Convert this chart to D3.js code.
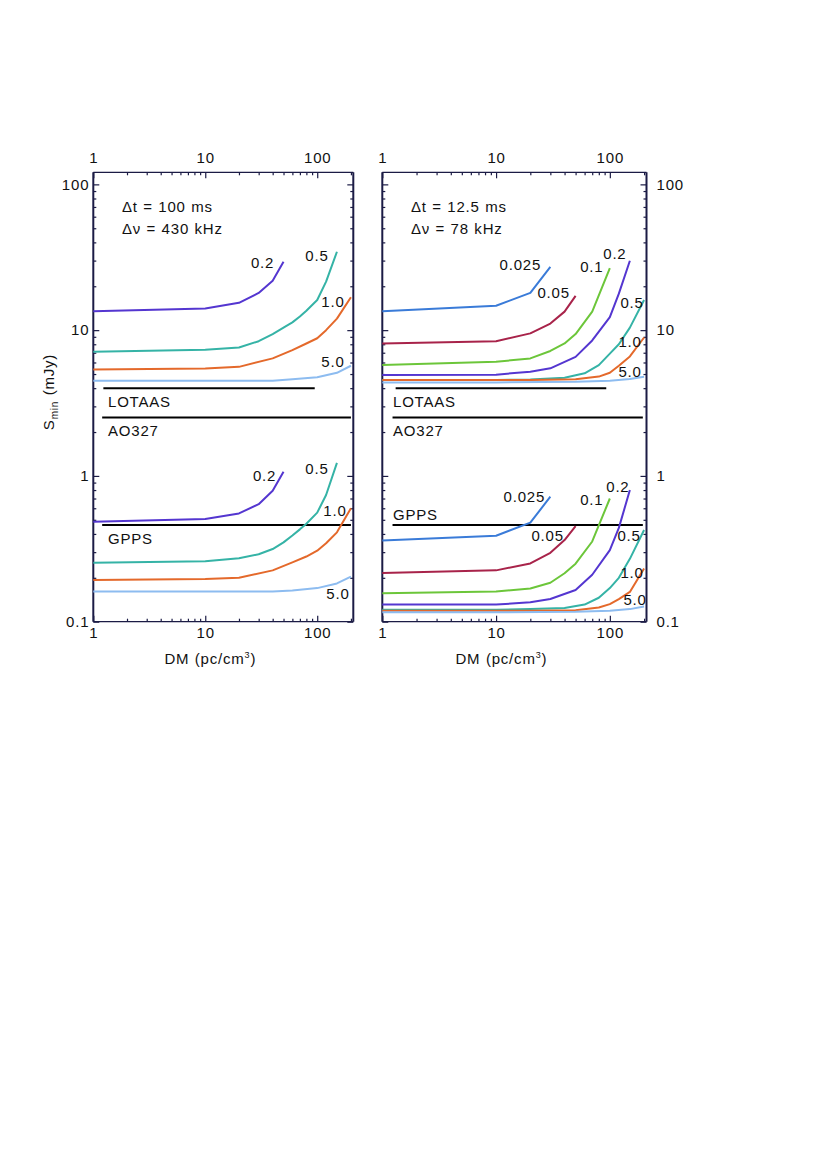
<!DOCTYPE html>
<html><head><meta charset="utf-8">
<script src="https://cdn.jsdelivr.net/npm/d3@7"></script>
<style>body{margin:0;background:#fff;} text{font-family:"Liberation Sans",Arial,sans-serif;letter-spacing:0.8px;word-spacing:0.5px;}</style>
</head><body>
<svg id="c" width="830" height="1174"></svg>
<script>
// ---------- data ----------
const xTicks = [1, 10, 100];
const yTicks = [0.1, 1, 10, 100];
const dmDomain = [1, 210];
const sDomain = [0.1, 121];

// widths (ms) labels
const leftWidths = ["0.2", "0.5", "1.0", "5.0"];
const rightWidths = ["0.025", "0.05", "0.1", "0.2", "0.5", "1.0", "5.0"];

// Left panel (dt = 100 ms, dnu = 430 kHz), upper set
const L_up_02_dm = [1, 10, 20, 30, 40, 50];
const L_up_02_s  = [13.5, 14.1, 15.4, 18.0, 21.8, 29.5];
const L_up_05_dm = [1, 10, 20, 30, 40, 50, 60, 70, 80, 100, 120, 150];
const L_up_05_s  = [7.1, 7.35, 7.6, 8.4, 9.4, 10.4, 11.3, 12.4, 13.6, 16.1, 21.5, 34.5];
const L_up_10_dm = [1, 10, 20, 40, 60, 80, 100, 120, 150, 200];
const L_up_10_s  = [5.38, 5.45, 5.6, 6.4, 7.3, 8.1, 8.8, 10.0, 12.0, 16.8];
const L_up_50_dm = [1, 10, 20, 40, 60, 100, 150, 200];
const L_up_50_s  = [4.5, 4.5, 4.5, 4.5, 4.6, 4.75, 5.1, 5.7];

// Left panel, lower set
const L_lo_02_dm = [1, 10, 20, 30, 40, 50];
const L_lo_02_s  = [0.485, 0.506, 0.553, 0.64, 0.79, 1.07];
const L_lo_05_dm = [1, 10, 20, 30, 40, 50, 60, 70, 80, 100, 120, 150];
const L_lo_05_s  = [0.254, 0.26, 0.272, 0.29, 0.315, 0.35, 0.39, 0.43, 0.47, 0.56, 0.74, 1.23];
const L_lo_10_dm = [1, 10, 20, 40, 60, 80, 100, 120, 150, 200];
const L_lo_10_s  = [0.193, 0.196, 0.2, 0.225, 0.255, 0.28, 0.307, 0.345, 0.41, 0.6];
const L_lo_50_dm = [1, 10, 20, 40, 60, 100, 150, 200];
const L_lo_50_s  = [0.161, 0.161, 0.161, 0.161, 0.164, 0.17, 0.183, 0.204];

// Right panel (dt = 12.5 ms, dnu = 78 kHz), upper set
const R_up_0025_dm = [1, 10, 20, 30];
const R_up_0025_s  = [13.5, 14.7, 18.0, 27.2];
const R_up_005_dm = [1, 10, 20, 30, 40, 50];
const R_up_005_s  = [8.1, 8.4, 9.5, 11.1, 13.4, 17.2];
const R_up_01_dm = [1, 10, 20, 30, 40, 50, 70, 100];
const R_up_01_s  = [5.76, 6.07, 6.4, 7.2, 8.1, 9.4, 13.4, 26.6];
const R_up_02_dm = [1, 10, 20, 30, 50, 70, 100, 120, 150];
const R_up_02_s  = [4.92, 4.95, 5.19, 5.47, 6.56, 8.5, 12.3, 17.8, 29.9];
const R_up_05_dm = [1, 10, 20, 40, 60, 80, 100, 120, 150, 200];
const R_up_05_s  = [4.55, 4.55, 4.58, 4.72, 5.06, 5.75, 6.9, 8.0, 10.4, 16.1];
const R_up_10_dm = [1, 10, 20, 50, 80, 100, 120, 150, 200];
const R_up_10_s  = [4.55, 4.55, 4.55, 4.6, 4.8, 5.1, 5.7, 6.6, 8.9];
const R_up_50_dm = [1, 10, 50, 100, 150, 200];
const R_up_50_s  = [4.38, 4.38, 4.42, 4.5, 4.62, 4.79];

// Right panel, lower set
const R_lo_0025_dm = [1, 10, 20, 30];
const R_lo_0025_s  = [0.36, 0.389, 0.478, 0.72];
const R_lo_005_dm = [1, 10, 20, 30, 40, 50];
const R_lo_005_s  = [0.216, 0.225, 0.251, 0.297, 0.363, 0.453];
const R_lo_01_dm = [1, 10, 20, 30, 40, 50, 70, 100];
const R_lo_01_s  = [0.157, 0.161, 0.169, 0.185, 0.215, 0.25, 0.355, 0.70];
const R_lo_02_dm = [1, 10, 20, 30, 50, 70, 100, 120, 150];
const R_lo_02_s  = [0.131, 0.131, 0.136, 0.143, 0.165, 0.21, 0.31, 0.44, 0.80];
const R_lo_05_dm = [1, 10, 20, 40, 60, 80, 100, 120, 150, 200];
const R_lo_05_s  = [0.121, 0.121, 0.122, 0.124, 0.131, 0.146, 0.17, 0.2, 0.27, 0.426];
const R_lo_10_dm = [1, 10, 20, 50, 80, 100, 120, 150, 200];
const R_lo_10_s  = [0.119, 0.119, 0.119, 0.12, 0.125, 0.132, 0.143, 0.16, 0.232];
const R_lo_50_dm = [1, 10, 50, 100, 150, 200];
const R_lo_50_s  = [0.116, 0.116, 0.117, 0.119, 0.122, 0.127];

// survey sensitivity lines: name, S (mJy), DM start, DM end (per panel)
const surveyNames = ["LOTAAS", "AO327", "GPPS"];
const surveyS = [4.0, 2.52, 0.46];
const surveyLeftDM = [[1.23, 95], [1.2, 200], [1.2, 200]];
const surveyRightDM = [[1.31, 93], [1.23, 195], [1.23, 195]];

// ---------- styles ----------
const colorMap = {"0.025":"#3a7bd8","0.05":"#a8234a","0.1":"#6cc63a","0.2":"#5436d0","0.5":"#35b3a6","1.0":"#e4692b","5.0":"#8dbcf0"};
const frameColor = "#1b1b45";
const FS = 15;

const svg = d3.select("#c");

function drawPanel(cfg) {
  const x = d3.scaleLog().domain(dmDomain).range([cfg.x0, cfg.x1]);
  const y = d3.scaleLog().domain(sDomain).range([cfg.y1, cfg.y0]);
  const g = svg.append("g");

  const minorX = [];
  for (let d = 1; d <= 2; d++) for (let m = 2; m <= 9; m++) minorX.push(m * Math.pow(10, d - 1));
  minorX.push(200);
  const minorY = [];
  for (let d = -1; d <= 1; d++) for (let m = 2; m <= 9; m++) minorY.push(m * Math.pow(10, d));

  const fmt = d => String(d);
  function axisG(axisFn, tx, ty, values, size, labels, pad) {
    const a = axisFn.tickValues(values).tickSizeInner(size).tickSizeOuter(0).tickPadding(pad)
      .tickFormat(labels ? fmt : "");
    const ag = g.append("g").attr("transform", `translate(${tx},${ty})`).call(a);
    ag.select(".domain").remove();
    ag.selectAll("line").attr("stroke", frameColor).attr("stroke-width", 1.2);
    ag.selectAll("text").attr("font-size", FS).attr("fill", "#111")
      .attr("font-family", "Liberation Sans, Arial, sans-serif");
    return ag;
  }
  // bottom
  axisG(d3.axisBottom(x), 0, cfg.y1, xTicks, -6, true, 6);
  axisG(d3.axisBottom(x), 0, cfg.y1, minorX, -3, false, 0);
  // top
  axisG(d3.axisTop(x), 0, cfg.y0, xTicks, -6, true, 9);
  axisG(d3.axisTop(x), 0, cfg.y0, minorX, -3, false, 0);
  // left
  axisG(d3.axisLeft(y), cfg.x0, 0, yTicks, -6, cfg.labelsLeft, 4);
  axisG(d3.axisLeft(y), cfg.x0, 0, minorY, -3, false, 0);
  // right
  axisG(d3.axisRight(y), cfg.x1, 0, yTicks, -6, !cfg.labelsLeft, 10);
  axisG(d3.axisRight(y), cfg.x1, 0, minorY, -3, false, 0);

  // frame
  g.append("line").attr("x1", cfg.x0).attr("x2", cfg.x1).attr("y1", cfg.y0).attr("y2", cfg.y0).attr("stroke", frameColor).attr("stroke-width", 1.3);
  g.append("line").attr("x1", cfg.x0).attr("x2", cfg.x1).attr("y1", cfg.y1).attr("y2", cfg.y1).attr("stroke", frameColor).attr("stroke-width", 1.3);
  g.append("line").attr("x1", cfg.x0).attr("x2", cfg.x0).attr("y1", cfg.y0).attr("y2", cfg.y1).attr("stroke", frameColor).attr("stroke-width", 2);
  g.append("line").attr("x1", cfg.x1).attr("x2", cfg.x1).attr("y1", cfg.y0).attr("y2", cfg.y1).attr("stroke", frameColor).attr("stroke-width", 2);

  // survey lines
  surveyNames.forEach((n, i) => {
    const [a, b] = cfg.surveyDM[i];
    g.append("line").attr("x1", x(a)).attr("x2", x(b)).attr("y1", y(surveyS[i])).attr("y2", y(surveyS[i]))
      .attr("stroke", "#000").attr("stroke-width", 2);
    const above = cfg.surveyAbove[i];
    g.append("text").attr("x", cfg.surveyLabelX).attr("y", y(surveyS[i]) + (above ? -5 : 19))
      .attr("font-size", FS).attr("fill", "#111").text(n);
  });

  // curves
  const line = d3.line().x(d => x(d[0])).y(d => y(d[1]));
  cfg.curves.forEach(c => {
    const pts = c.dm.map((d, i) => [d, c.s[i]]);
    g.append("path").attr("d", line(pts)).attr("fill", "none")
      .attr("stroke", colorMap[c.w]).attr("stroke-width", 2).attr("stroke-linejoin", "round");
    const last = pts[pts.length - 1];
    g.append("text").attr("x", x(last[0]) + c.off[0]).attr("y", y(last[1]) + c.off[1])
      .attr("text-anchor", "middle").attr("dominant-baseline", "central")
      .attr("font-size", FS).attr("fill", "#111").text(c.w);
  });

  // annotations
  g.append("text").attr("x", cfg.annX).attr("y", 212).attr("font-size", FS).attr("fill", "#111").text(cfg.ann1);
  g.append("text").attr("x", cfg.annX).attr("y", 233.5).attr("font-size", FS).attr("fill", "#111").text(cfg.ann2);

  // x label
  const xl = g.append("text").attr("x", (cfg.x0 + cfg.x1) / 2 - 13).attr("y", 663.5)
    .attr("text-anchor", "middle").attr("font-size", FS).attr("fill", "#111");
  xl.append("tspan").text("DM (pc/cm");
  xl.append("tspan").attr("font-size", 9).attr("dy", -6).text("3");
  xl.append("tspan").attr("dy", 6).text(")");
}

drawPanel({
  x0: 93.3, x1: 353.3, y0: 172.3, y1: 621.7, labelsLeft: true,
  surveyDM: surveyLeftDM, surveyAbove: [false, false, false], surveyLabelX: 108,
  annX: 122, ann1: "\u0394t = 100 ms", ann2: "\u0394\u03bd = 430 kHz",
  curves: [
    {w: leftWidths[0], dm: L_up_02_dm, s: L_up_02_s, off: [-21, 1]},
    {w: leftWidths[1], dm: L_up_05_dm, s: L_up_05_s, off: [-20, 4]},
    {w: leftWidths[2], dm: L_up_10_dm, s: L_up_10_s, off: [-18, 4]},
    {w: leftWidths[3], dm: L_up_50_dm, s: L_up_50_s, off: [-18, -4]},
    {w: leftWidths[0], dm: L_lo_02_dm, s: L_lo_02_s, off: [-19, 4]},
    {w: leftWidths[1], dm: L_lo_05_dm, s: L_lo_05_s, off: [-20, 6]},
    {w: leftWidths[2], dm: L_lo_10_dm, s: L_lo_10_s, off: [-16, 2]},
    {w: leftWidths[3], dm: L_lo_50_dm, s: L_lo_50_s, off: [-13, 17]}
  ]
});

drawPanel({
  x0: 382.3, x1: 646.5, y0: 172.3, y1: 621.7, labelsLeft: false,
  surveyDM: surveyRightDM, surveyAbove: [false, false, true], surveyLabelX: 393,
  annX: 411, ann1: "\u0394t = 12.5 ms", ann2: "\u0394\u03bd = 78 kHz",
  curves: [
    {w: rightWidths[0], dm: R_up_0025_dm, s: R_up_0025_s, off: [-30, -2]},
    {w: rightWidths[1], dm: R_up_005_dm, s: R_up_005_s, off: [-22, -3]},
    {w: rightWidths[2], dm: R_up_01_dm, s: R_up_01_s, off: [-18, -2]},
    {w: rightWidths[3], dm: R_up_02_dm, s: R_up_02_s, off: [-15, -7]},
    {w: rightWidths[4], dm: R_up_05_dm, s: R_up_05_s, off: [-12, 3]},
    {w: rightWidths[5], dm: R_up_10_dm, s: R_up_10_s, off: [-14, 4]},
    {w: rightWidths[6], dm: R_up_50_dm, s: R_up_50_s, off: [-14, -5]},
    {w: rightWidths[0], dm: R_lo_0025_dm, s: R_lo_0025_s, off: [-26, 0]},
    {w: rightWidths[1], dm: R_lo_005_dm, s: R_lo_005_s, off: [-28, 9]},
    {w: rightWidths[2], dm: R_lo_01_dm, s: R_lo_01_s, off: [-18, 1]},
    {w: rightWidths[3], dm: R_lo_02_dm, s: R_lo_02_s, off: [-12, -4]},
    {w: rightWidths[4], dm: R_lo_05_dm, s: R_lo_05_s, off: [-15, 6]},
    {w: rightWidths[5], dm: R_lo_10_dm, s: R_lo_10_s, off: [-12, 4]},
    {w: rightWidths[6], dm: R_lo_50_dm, s: R_lo_50_s, off: [-9, -7]}
  ]
});

// y label
const yl = svg.append("text").attr("transform", "translate(54,392) rotate(-90)")
  .attr("text-anchor", "middle").attr("font-size", 15).attr("fill", "#111");
yl.append("tspan").text("S");
yl.append("tspan").attr("font-size", 10).attr("dy", 4).text("min");
yl.append("tspan").attr("dy", -4).text(" (mJy)");
</script>
</body></html>
